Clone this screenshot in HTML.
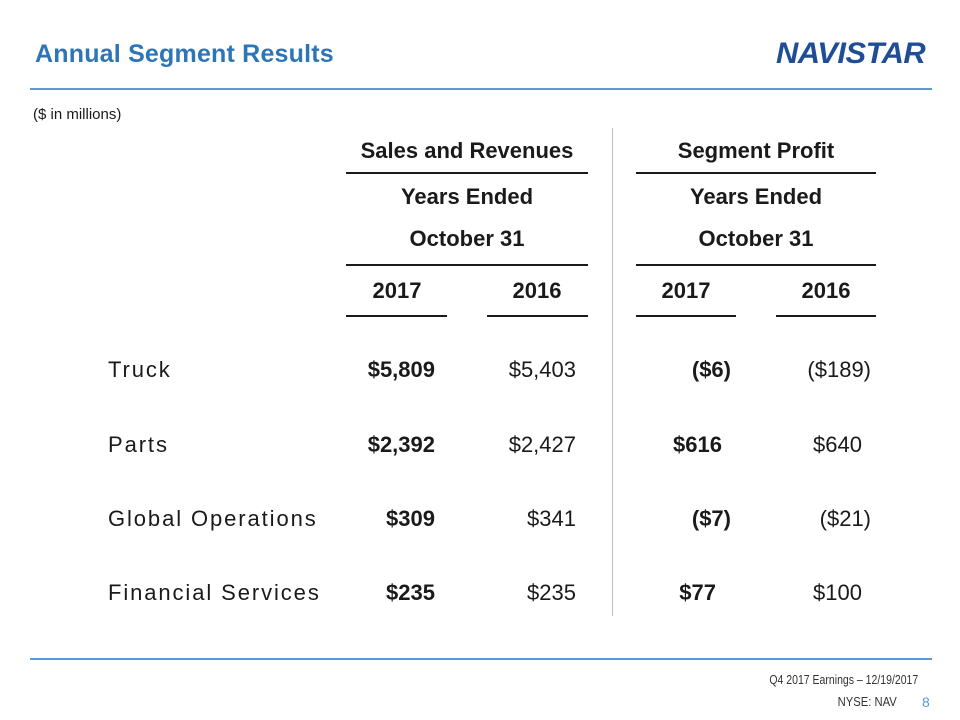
<!DOCTYPE html>
<html><head><meta charset="utf-8"><style>
body{margin:0;width:960px;height:720px;background:#fff;position:relative;overflow:hidden;font-family:"Liberation Sans",sans-serif;color:#1a1a1a}
.a{position:absolute;white-space:nowrap}
.hl{position:absolute;height:2px;background:#1a1a1a}
.h{font-size:22px;font-weight:bold;transform:translateX(-50%)}
.lab{font-size:22px;letter-spacing:1.9px;left:108px}
.v{font-size:22px;transform:translateX(-100%)}
.b{font-weight:bold}
</style></head><body>
<div class="a" style="left:35px;top:40px;font-size:25px;font-weight:bold;color:#2e75b6;letter-spacing:0.2px">Annual Segment Results</div>
<div class="a" style="left:776px;top:37px;font-size:30px;font-weight:900;font-style:italic;color:#1f4e96;letter-spacing:-0.5px;transform-origin:left;transform:scaleX(1.03)">NAVISTAR</div>
<div class="a" style="left:30px;top:88px;width:902px;height:2px;background:#5b9bd5"></div>
<div class="a" style="left:33px;top:106px;font-size:15px">($ in millions)</div>

<div class="a" style="left:612px;top:128px;width:1px;height:488px;background:#bfbfbf"></div>

<div class="a h" style="left:467px;top:138px">Sales and Revenues</div>
<div class="a h" style="left:756px;top:138px">Segment Profit</div>
<div class="hl" style="left:346px;top:172px;width:242px"></div>
<div class="hl" style="left:636px;top:172px;width:240px"></div>
<div class="a h" style="left:467px;top:184px">Years Ended</div>
<div class="a h" style="left:756px;top:184px">Years Ended</div>
<div class="a h" style="left:467px;top:226px">October 31</div>
<div class="a h" style="left:756px;top:226px">October 31</div>
<div class="hl" style="left:346px;top:264px;width:242px"></div>
<div class="hl" style="left:636px;top:264px;width:240px"></div>
<div class="a h" style="left:397px;top:278px">2017</div>
<div class="a h" style="left:537px;top:278px">2016</div>
<div class="a h" style="left:686px;top:278px">2017</div>
<div class="a h" style="left:826px;top:278px">2016</div>
<div class="hl" style="left:346px;top:315px;width:101px"></div>
<div class="hl" style="left:487px;top:315px;width:101px"></div>
<div class="hl" style="left:636px;top:315px;width:100px"></div>
<div class="hl" style="left:776px;top:315px;width:100px"></div>

<div class="a lab" style="top:357px">Truck</div>
<div class="a v b" style="left:435px;top:357px">$5,809</div>
<div class="a v" style="left:576px;top:357px">$5,403</div>
<div class="a v b" style="left:731px;top:357px">($6)</div>
<div class="a v" style="left:871px;top:357px">($189)</div>

<div class="a lab" style="top:432px">Parts</div>
<div class="a v b" style="left:435px;top:432px">$2,392</div>
<div class="a v" style="left:576px;top:432px">$2,427</div>
<div class="a v b" style="left:722px;top:432px">$616</div>
<div class="a v" style="left:862px;top:432px">$640</div>

<div class="a lab" style="top:506px">Global Operations</div>
<div class="a v b" style="left:435px;top:506px">$309</div>
<div class="a v" style="left:576px;top:506px">$341</div>
<div class="a v b" style="left:731px;top:506px">($7)</div>
<div class="a v" style="left:871px;top:506px">($21)</div>

<div class="a lab" style="top:580px">Financial Services</div>
<div class="a v b" style="left:435px;top:580px">$235</div>
<div class="a v" style="left:576px;top:580px">$235</div>
<div class="a v b" style="left:716px;top:580px">$77</div>
<div class="a v" style="left:862px;top:580px">$100</div>

<div class="a" style="left:30px;top:658px;width:902px;height:2px;background:#5b9bd5"></div>
<div class="a" style="right:42px;top:673px;font-size:12.5px;color:#333;transform-origin:right;transform:scaleX(0.84)">Q4 2017 Earnings – 12/19/2017</div>
<div class="a" style="right:63px;top:695px;font-size:12.5px;color:#333;transform-origin:right;transform:scaleX(0.9)">NYSE: NAV</div>
<div class="a" style="left:922px;top:694px;font-size:14px;color:#5b9bd5">8</div>
</body></html>
